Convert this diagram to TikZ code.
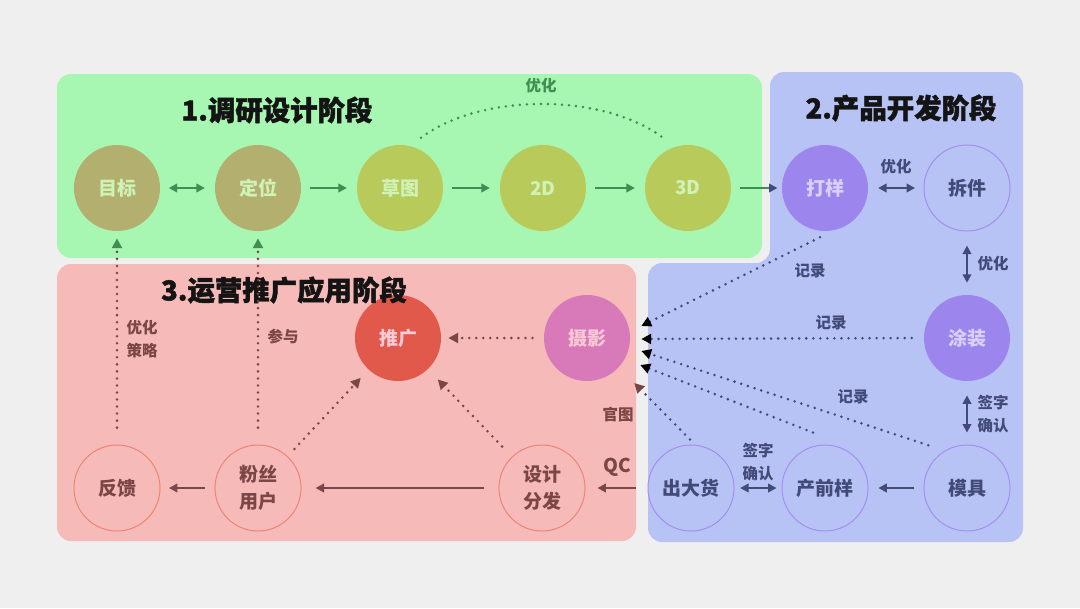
\documentclass[tikz,border=0pt]{standalone}
\usepackage{fontspec}
\setmainfont{Noto Sans CJK SC}
\newfontfamily\titlefont{Noto Sans CJK SC}[BoldFeatures={FakeBold=1.6}]
\usepackage{xcolor}
\usetikzlibrary{arrows.meta}

\definecolor{bggray}{HTML}{EFEFEF}
\definecolor{greenbg}{HTML}{A7F7B2}
\definecolor{bluebg}{HTML}{B8C3F5}
\definecolor{redbg}{HTML}{F6BAB8}
\definecolor{olivec}{HTML}{B3B06F}
\definecolor{limec}{HTML}{B8CA5A}
\definecolor{leafc}{HTML}{CFF3B7}
\definecolor{lavc}{HTML}{9C86EE}
\definecolor{lavtxt}{HTML}{D9D1FA}
\definecolor{ringc}{HTML}{A28DF0}
\definecolor{navyc}{HTML}{424B78}
\definecolor{redc}{HTML}{E1594B}
\definecolor{magc}{HTML}{D87AB9}
\definecolor{pinktxt}{HTML}{F9CAD6}
\definecolor{rosec}{HTML}{EF8373}
\definecolor{brownc}{HTML}{7B4646}
\definecolor{greenc}{HTML}{3F8E53}

\begin{document}
\begin{tikzpicture}[x=0.025cm, y=-0.025cm,
  stage/.style={circle, minimum size=2.15cm, inner sep=0pt, align=center, font=\fontsize{13.5}{19}\selectfont\bfseries},
  olive/.style={stage, fill=olivec, text=leafc},
  lime/.style={stage, fill=limec, text=leafc},
  lav/.style={stage, fill=lavc, text=lavtxt},
  ring/.style={stage, draw=ringc, line width=0.7pt, text=navyc},
  rose/.style={stage, draw=rosec, line width=0.7pt, text=brownc},
  title/.style={font=\fontsize{19.5}{22}\titlefont\bfseries, text=black!92},
  lbl/.style={font=\fontsize{11}{16}\selectfont\bfseries, align=center},
  arr/.style={-{Triangle[length=6pt,width=6pt]}, line width=1.8pt},
  dbl/.style={{Triangle[length=6pt,width=6pt]}-{Triangle[length=6pt,width=6pt]}, line width=1.8pt},
  dots/.style={line width=2pt, line cap=round, dash pattern=on 0pt off 5pt},
  dotarr/.style={dots, -{Triangle[length=7pt,width=7pt,color=#1]}},
  dotarr/.default=black]
\fill[bggray] (0,0) rectangle (1080,608);
\fill[greenbg, rounded corners=10pt] (57,74) rectangle (762,258);
\fill[bluebg, rounded corners=10pt] (648,263) -- (770,263) -- (770,72) -- (1023,72) -- (1023,542) -- (648,542) -- cycle;
\fill[redbg, rounded corners=10pt] (57,264) rectangle (636,541);

\node[olive] (mubiao) at (117,188) {目标};
\node[olive] (dingwei) at (258,188) {定位};
\node[lime] (caotu) at (400,188) {草图};
\node[lime] (erD) at (543,188) {2D};
\node[lime] (sanD) at (688,188) {3D};
\node[lav] (dayang) at (825,188) {打样};
\node[ring] (chaijian) at (967,188) {拆件};
\node[lav] (tuzhuang) at (967,338) {涂装};
\node[ring] (muju) at (967,488) {模具};
\node[ring] (chanqian) at (825,488) {产前样};
\node[ring] (chuhuo) at (691,488) {出大货};
\node[rose] (fenfa) at (542,488) {设计\\分发};
\node[rose] (fensi) at (258,488) {粉丝\\用户};
\node[rose] (fankui) at (117,488) {反馈};
\node[stage, fill=redc, text=pinktxt] (tuiguang) at (398,338) {推广};
\node[stage, fill=magc, text=pinktxt] (sheying) at (587,338) {摄影};

\node[title] (t1) at (277,110) {1.调研设计阶段};
\node[title] (t2) at (901,108) {2.产品开发阶段};
\node[title] (t3) at (284,290) {3.运营推广应用阶段};

\draw[dbl, greenc, shorten <=6pt, shorten >=7pt] (mubiao) -- (dingwei);
\draw[arr, greenc, shorten <=6pt, shorten >=7pt] (dingwei) -- (caotu);
\draw[arr, greenc, shorten <=6pt, shorten >=7pt] (caotu) -- (erD);
\draw[arr, greenc, shorten <=6pt, shorten >=7pt] (erD) -- (sanD);
\draw[greenc, line width=1.8pt, -{Triangle[length=6pt,width=6pt,color=navyc]}, shorten <=6pt, shorten >=3pt] (sanD) -- (dayang);
\draw[dots, greenc] ([shift={(21,-7)}]caotu.north) .. controls +(60,-45) and +(-60,-45) .. ([shift={(-25,-7)}]sanD.north);
\node[lbl, text=greenc] (yh1) at (541,86) {优化};

\draw[dbl, navyc, shorten <=7pt, shorten >=6pt] (dayang) -- (chaijian);
\node[lbl, text=navyc] (yh2) at (896,167) {优化};
\draw[dbl, navyc, shorten <=10pt, shorten >=8.5pt] (chaijian) -- (tuzhuang);
\node[lbl, text=navyc] (yh3) at (993,264) {优化};
\draw[dbl, navyc, shorten <=10pt, shorten >=8.5pt] (tuzhuang) -- (muju);
\node[lbl, text=navyc] (qz1) at (993,414) {签字\\确认};
\draw[arr, navyc, shorten <=6.5pt, shorten >=7pt] (muju) -- (chanqian);
\draw[dbl, navyc, shorten <=3.5pt, shorten >=4pt] (chanqian) -- (chuhuo);
\node[lbl, text=navyc] (qz2) at (758,462) {签字\\确认};
\draw[arr, brownc, shorten <=8.5pt, shorten >=8.5pt] (chuhuo) -- (fenfa);
\node[lbl, text=brownc, font=\fontsize{13.5}{16}\selectfont\bfseries] (qc) at (617,467) {QC};
\draw[arr, brownc, shorten <=10pt, shorten >=10pt] (fenfa) -- (fensi);
\draw[arr, brownc, shorten <=7pt, shorten >=6pt] (fensi) -- (fankui);

\draw[dotarr=greenc, brownc, shorten <=12pt, shorten >=5pt] (fankui) -- (mubiao);
\node[lbl, text=brownc] (clue) at (142,339) {优化\\策略};
\draw[dotarr=greenc, brownc, shorten <=12pt, shorten >=5pt] (fensi) -- (dingwei);
\node[lbl, text=brownc] (cy) at (283,336) {参与};
\draw[dotarr=brownc, brownc, shorten <=7pt, shorten >=8pt] (fensi) -- (tuiguang);
\draw[dotarr=brownc, brownc, shorten <=10pt, shorten >=10pt] (fenfa) -- (tuiguang);
\draw[dotarr=brownc, brownc, shorten <=8pt, shorten >=5pt] (sheying) -- (tuiguang);

\draw[dotarr, navyc] ([shift={(-5,6)}]dayang.south) -- ([shift={(11,-12)}]sheying.east);
\node[lbl, text=navyc] (jl1) at (810,271) {记录};
\draw[dotarr, navyc] ([shift={(-12,0)}]tuzhuang.west) -- ([shift={(11,1)}]sheying.east);
\node[lbl, text=navyc] (jl2) at (831,323) {记录};
\draw[dotarr, navyc] ([shift={(-8,-12)}]muju.north west) -- ([shift={(11,13)}]sheying.east);
\node[lbl, text=navyc] (jl3) at (853,397) {记录};
\draw[dotarr, navyc] ([shift={(-12,-12)}]chanqian.north) -- ([shift={(10,27)}]sheying.east);
\draw[dotarr=brownc, navyc] ([shift={(-1,-5)}]chuhuo.north) -- ([shift={(4,45)}]sheying.east);
\node[lbl, text=brownc] (gt) at (618,415) {官图};
\end{tikzpicture}
\end{document}
